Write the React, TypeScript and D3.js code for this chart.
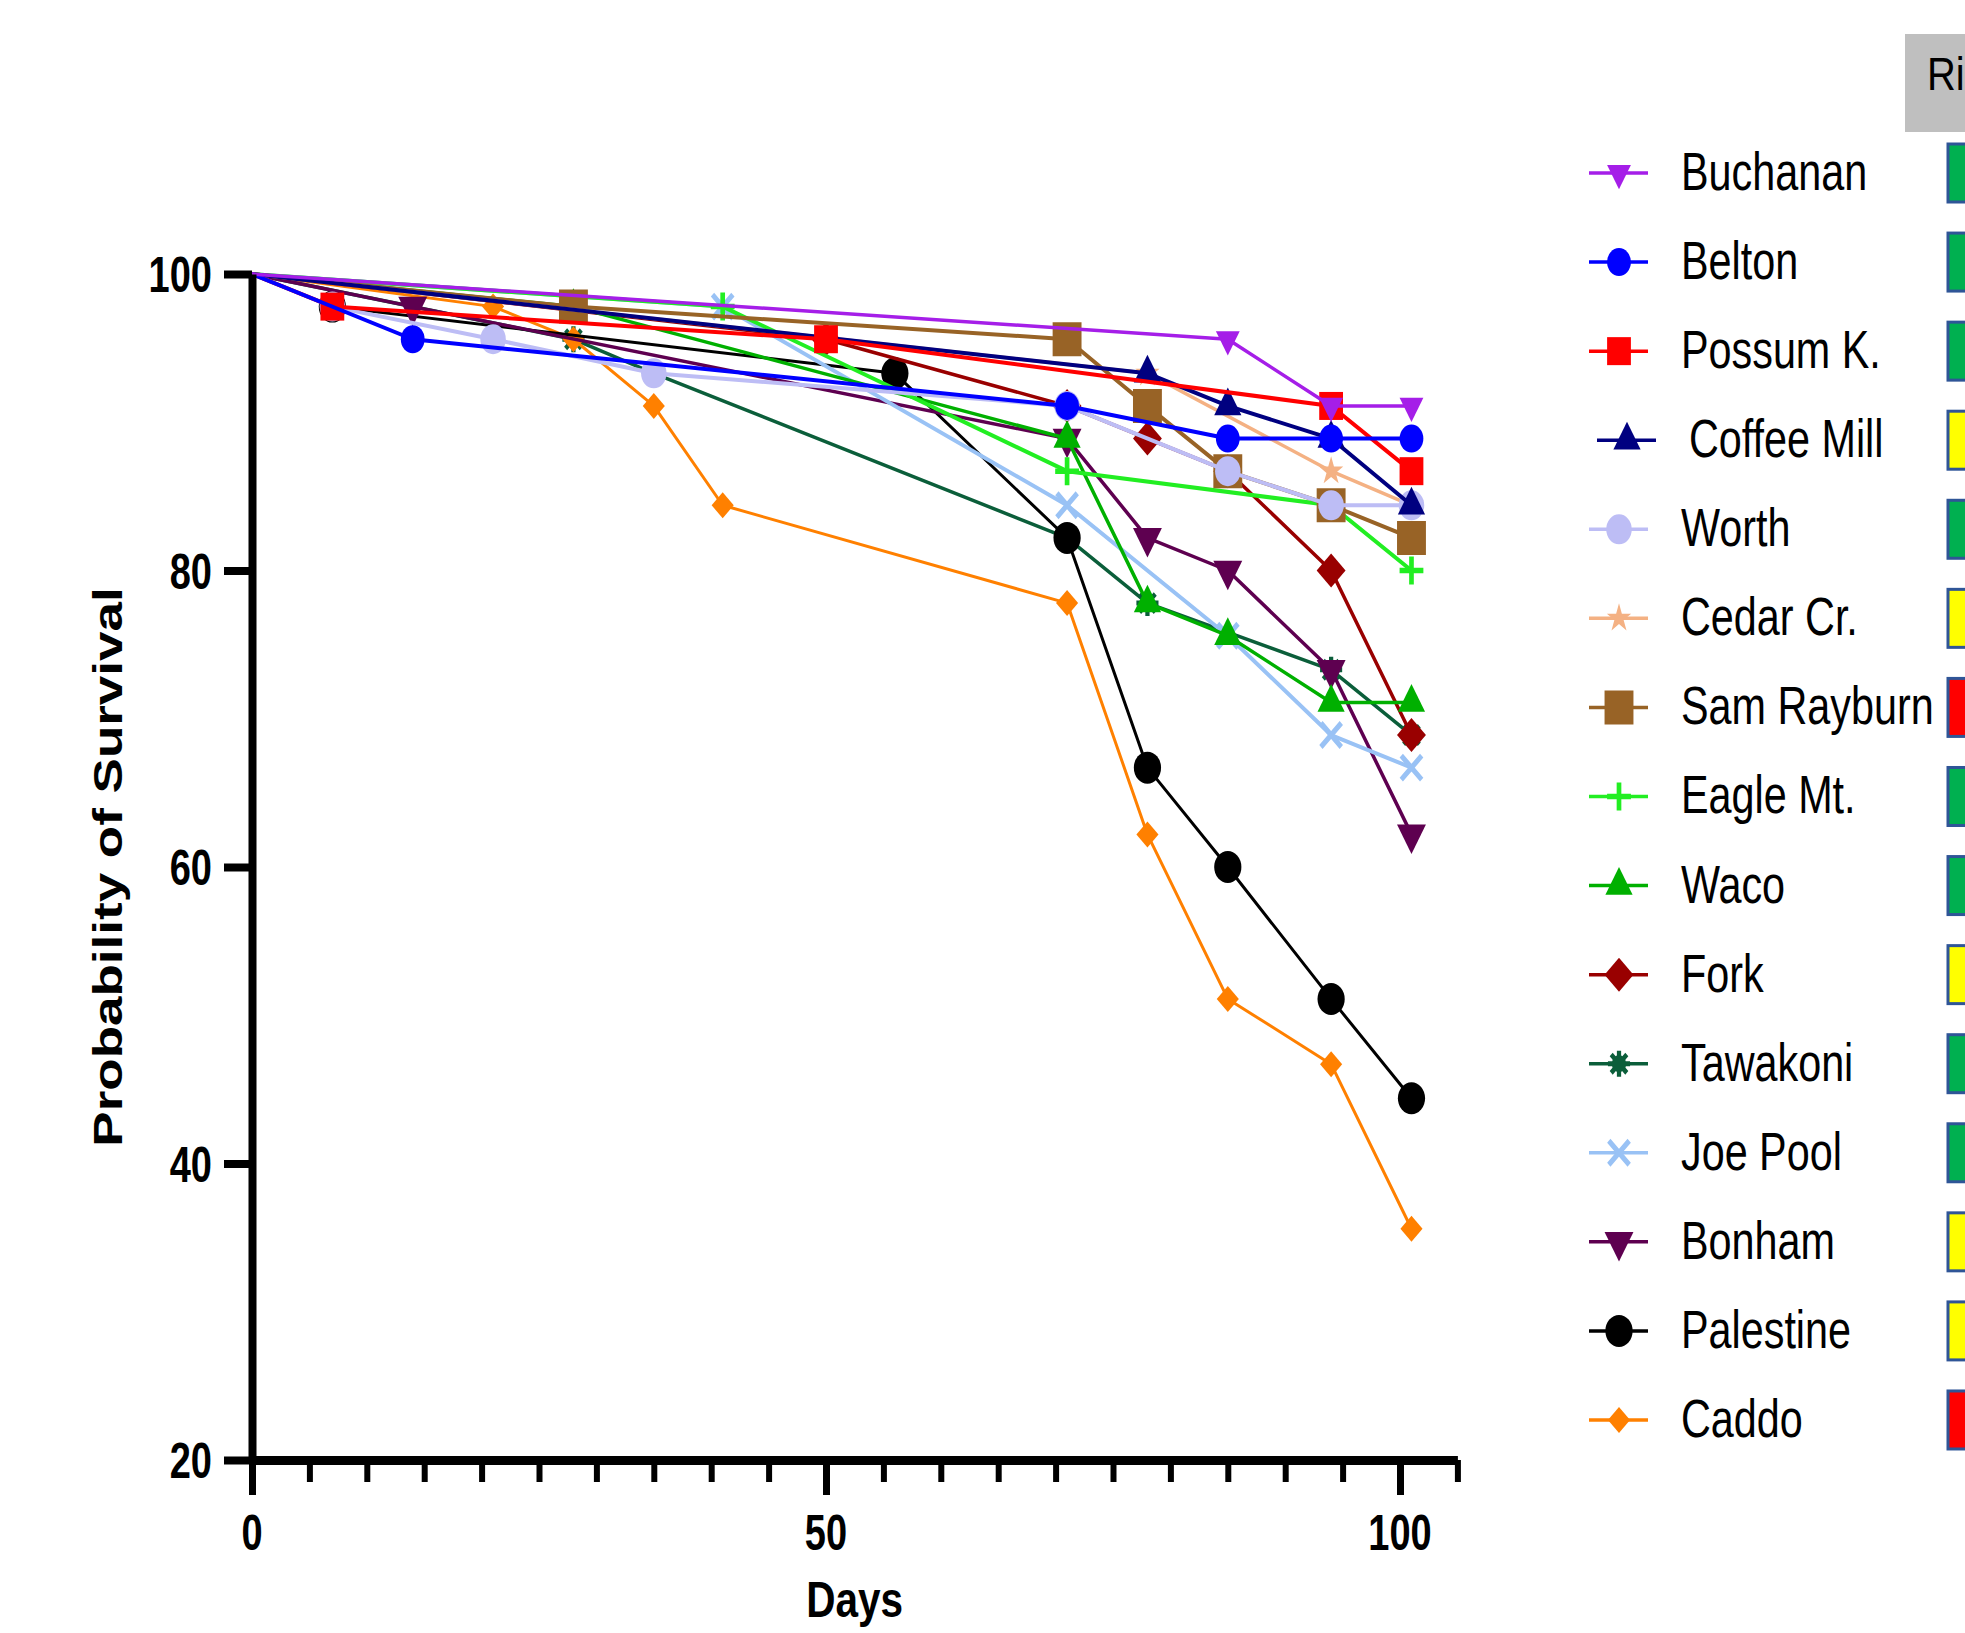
import React, { useEffect, useRef } from 'react';
import * as d3 from 'd3';

const W = 1965;
const H = 1633;
const FONT = 'Liberation Sans, Arial, Helvetica, sans-serif';

// series, in legend order
const seriesNames = ['Buchanan', 'Belton', 'Possum K.', 'Coffee Mill', 'Worth', 'Cedar Cr.', 'Sam Rayburn',
  'Eagle Mt.', 'Waco', 'Fork', 'Tawakoni', 'Joe Pool', 'Bonham', 'Palestine', 'Caddo'];
const seriesColors = ['#A51EE8', '#0000FF', '#FF0000', '#000080', '#BDBDF5', '#F4B183', '#986326',
  '#22EE22', '#00B000', '#990000', '#0B5E3A', '#99C2F5', '#5E0050', '#000000', '#FF8000'];
const seriesMarkers = ['triDown', 'circle', 'square', 'triUp', 'circle', 'star', 'square',
  'plus', 'triUp', 'diamond', 'asterisk', 'times', 'triDown', 'circle', 'diamond'];
const riskLevels = ['green', 'green', 'green', 'yellow', 'green', 'yellow', 'red',
  'green', 'green', 'yellow', 'green', 'green', 'yellow', 'yellow', 'red'];
const riskHeader = 'Ri';

// [day, % survival]
const buchanan = [[0, 100], [85, 95.6], [94, 91.1], [101, 91.1]];
const belton = [[0, 100], [14, 95.6], [71, 91.1], [85, 88.9], [94, 88.9], [101, 88.9]];
const possumK = [[0, 100], [7, 97.8], [50, 95.6], [94, 91.1], [101, 86.7]];
const coffeeMill = [[0, 100], [78, 93.3], [85, 91.1], [94, 88.9], [101, 84.4]];
const worth = [[0, 100], [7, 97.8], [21, 95.6], [35, 93.3], [71, 91.1], [85, 86.7], [94, 84.4], [101, 84.4]];
const cedarCr = [[0, 100], [78, 93.3], [94, 86.7], [101, 84.4]];
const samRayburn = [[0, 100], [28, 97.8], [71, 95.6], [78, 91.1], [85, 86.7], [94, 84.4], [101, 82.2]];
const eagleMt = [[0, 100], [41, 97.8], [71, 86.7], [94, 84.4], [101, 80]];
const waco = [[0, 100], [28, 97.8], [71, 88.9], [78, 77.8], [85, 75.6], [94, 71.1], [101, 71.1]];
const fork = [[0, 100], [50, 95.6], [71, 91.1], [78, 88.9], [85, 86.7], [94, 80], [101, 68.9]];
const tawakoni = [[0, 100], [28, 95.6], [35, 93.3], [71, 82.2], [78, 77.8], [94, 73.3], [101, 68.9]];
const joePool = [[0, 100], [41, 97.8], [71, 84.4], [85, 75.6], [94, 68.9], [101, 66.7]];
const bonham = [[0, 100], [14, 97.8], [71, 88.9], [78, 82.2], [85, 80], [94, 73.3], [101, 62.2]];
const palestine = [[0, 100], [7, 97.8], [56, 93.3], [71, 82.2], [78, 66.7], [85, 60], [94, 51.1], [101, 44.4]];
const caddo = [[0, 100], [21, 97.8], [28, 95.6], [35, 91.1], [41, 84.4], [71, 77.8], [78, 62.2], [85, 51.1], [94, 46.7], [101, 35.6]];

const seriesData = [buchanan, belton, possumK, coffeeMill, worth, cedarCr, samRayburn,
  eagleMt, waco, fork, tawakoni, joePool, bonham, palestine, caddo];

const yTicks = [20, 40, 60, 80, 100];
const xMajorTicks = [0, 50, 100];
const xMinorTicks = d3.range(0, 106, 5);

const markerSize = [14, 14, 14, 16, 15, 15, 17, 14, 16, 17, 13, 15, 17, 16, 13];
const lineWidth = [3.5, 4, 4, 4, 4, 3.5, 4, 4, 3.5, 3.5, 3.5, 4, 3.5, 3, 3];
const drawOrder = [10, 14, 13, 12, 11, 9, 8, 7, 6, 5, 4, 3, 2, 1, 0];
const riskFill = { green: '#00B050', yellow: '#FFFF00', red: '#FF0000' };

function addMarker(g, kind, color, r) {
  if (kind === 'circle') {
    g.append('circle').attr('r', r).attr('fill', color);
  } else if (kind === 'square') {
    g.append('path').attr('d', d3.symbol(d3.symbolSquare, 4 * r * r)()).attr('fill', color);
  } else if (kind === 'triUp' || kind === 'triDown') {
    g.append('path').attr('d', d3.symbol(d3.symbolTriangle, Math.sqrt(3) * r * r)())
      .attr('transform', kind === 'triDown' ? 'rotate(180)' : null)
      .attr('fill', color);
  } else if (kind === 'diamond') {
    g.append('path').attr('d', d3.symbol(d3.symbolSquare, 2 * r * r)())
      .attr('transform', 'rotate(45)').attr('fill', color);
  } else if (kind === 'star') {
    g.append('path').attr('d', d3.symbol(d3.symbolStar, (r * r) / 0.8908)()).attr('fill', color);
  } else if (kind === 'plus') {
    const p = d3.path();
    p.moveTo(-r, 0); p.lineTo(r, 0); p.moveTo(0, -r); p.lineTo(0, r);
    g.append('path').attr('d', p.toString()).attr('stroke', color).attr('stroke-width', 5.5);
  } else if (kind === 'times') {
    const p = d3.path();
    const a = r * 0.8;
    p.moveTo(-a, -a); p.lineTo(a, a); p.moveTo(-a, a); p.lineTo(a, -a);
    g.append('path').attr('d', p.toString()).attr('stroke', color).attr('stroke-width', 5.5);
  } else if (kind === 'asterisk') {
    const p = d3.path();
    for (let k = 0; k < 4; k++) {
      const t = (k * Math.PI) / 4;
      p.moveTo(-r * Math.cos(t), -r * Math.sin(t));
      p.lineTo(r * Math.cos(t), r * Math.sin(t));
    }
    g.append('path').attr('d', p.toString()).attr('stroke', color).attr('stroke-width', 5);
    g.append('circle').attr('r', r * 0.65).attr('fill', color);
  }
}

function squeezedText(parent, str, x, y, size, weight, sx, anchor) {
  return parent.append('text')
    .attr('transform', `translate(${x},${y}) scale(${sx},1)`)
    .attr('text-anchor', anchor)
    .attr('font-family', FONT)
    .attr('font-size', size)
    .attr('font-weight', weight)
    .attr('fill', '#000')
    .text(str);
}

export default function App() {
  const ref = useRef(null);

  useEffect(() => {
    const svg = d3.select(ref.current);
    svg.selectAll('*').remove();

    const x = d3.scaleLinear().domain([0, 105]).range([252, 252 + 1148 * 1.05]);
    const y = d3.scaleLinear().domain([20, 100]).range([1460, 274]);

    // series
    const line = d3.line().x(d => x(d[0])).y(d => y(d[1]));
    const plot = svg.append('g').attr('id', 'series');
    drawOrder.forEach(i => {
      const g = plot.append('g');
      g.append('path')
        .attr('d', line(seriesData[i]))
        .attr('fill', 'none')
        .attr('stroke', seriesColors[i])
        .attr('stroke-width', lineWidth[i])
        .attr('stroke-linejoin', 'round');
      seriesData[i].slice(1).forEach(d => {
        const m = g.append('g').attr('transform', `translate(${x(d[0])},${y(d[1])}) scale(0.85,1)`);
        addMarker(m, seriesMarkers[i], seriesColors[i], markerSize[i]);
      });
    });

    // y axis
    const yAxis = svg.append('g')
      .attr('transform', `translate(${x(0)},0)`)
      .call(d3.axisLeft(y).tickValues(yTicks).tickSize(28).tickSizeOuter(0).tickFormat(() => ''));
    yAxis.select('.domain').attr('stroke', '#000').attr('stroke-width', 8);
    yAxis.selectAll('.tick line').attr('stroke', '#000').attr('stroke-width', 8);
    yTicks.forEach(v => squeezedText(svg, String(v), 212, y(v) + 18, 50, 'bold', 0.76, 'end'));

    // x axis
    const xMinor = svg.append('g')
      .attr('transform', `translate(0,${y(20)})`)
      .call(d3.axisBottom(x).tickValues(xMinorTicks).tickSize(22).tickSizeOuter(0).tickFormat(() => ''));
    xMinor.select('.domain').attr('stroke', '#000').attr('stroke-width', 9);
    xMinor.selectAll('.tick line').attr('stroke', '#000').attr('stroke-width', 6);
    const xMajor = svg.append('g')
      .attr('transform', `translate(0,${y(20)})`)
      .call(d3.axisBottom(x).tickValues(xMajorTicks).tickSize(35).tickSizeOuter(0).tickFormat(() => ''));
    xMajor.select('.domain').remove();
    xMajor.selectAll('.tick line').attr('stroke', '#000').attr('stroke-width', 7);
    xMajorTicks.forEach(v => squeezedText(svg, String(v), x(v), 1550, 50, 'bold', 0.76, 'middle'));

    // axis titles
    squeezedText(svg, 'Days', (x(0) + x(105)) / 2, 1617, 50, 'bold', 0.81, 'middle');
    svg.append('text')
      .attr('transform', `translate(122,${(y(20) + y(100)) / 2}) rotate(-90) scale(1,0.75)`)
      .attr('text-anchor', 'middle')
      .attr('font-family', FONT)
      .attr('font-size', 53)
      .attr('font-weight', 'bold')
      .text('Probability of Survival');

    // legend
    const rowY = i => 173 + i * 89.07;
    const legend = svg.append('g').attr('id', 'legend');
    seriesNames.forEach((name, i) => {
      const off = name === 'Coffee Mill' ? 8 : 0;
      const cy = rowY(i);
      legend.append('line')
        .attr('x1', 1589 + off).attr('x2', 1648 + off)
        .attr('y1', cy).attr('y2', cy)
        .attr('stroke', seriesColors[i]).attr('stroke-width', 3.5);
      const m = legend.append('g').attr('transform', `translate(${1619 + off},${cy}) scale(0.85,1)`);
      addMarker(m, seriesMarkers[i], seriesColors[i], markerSize[i]);
      squeezedText(legend, name, 1681 + off, cy + 17, 53, 'normal', 0.78, 'start');
      legend.append('rect')
        .attr('x', 1948).attr('y', cy - 29)
        .attr('width', 40).attr('height', 58)
        .attr('fill', riskFill[riskLevels[i]])
        .attr('stroke', '#2F5597').attr('stroke-width', 3);
    });
    legend.append('rect')
      .attr('x', 1905).attr('y', 34).attr('width', 70).attr('height', 98)
      .attr('fill', '#BFBFBF');
    squeezedText(legend, riskHeader, 1927, 90, 47, 'normal', 0.85, 'start');
  }, []);

  return (
    <svg ref={ref} width={W} height={H}
      style={{ position: 'absolute', left: 0, top: 0, background: '#fff', display: 'block' }} />
  );
}
